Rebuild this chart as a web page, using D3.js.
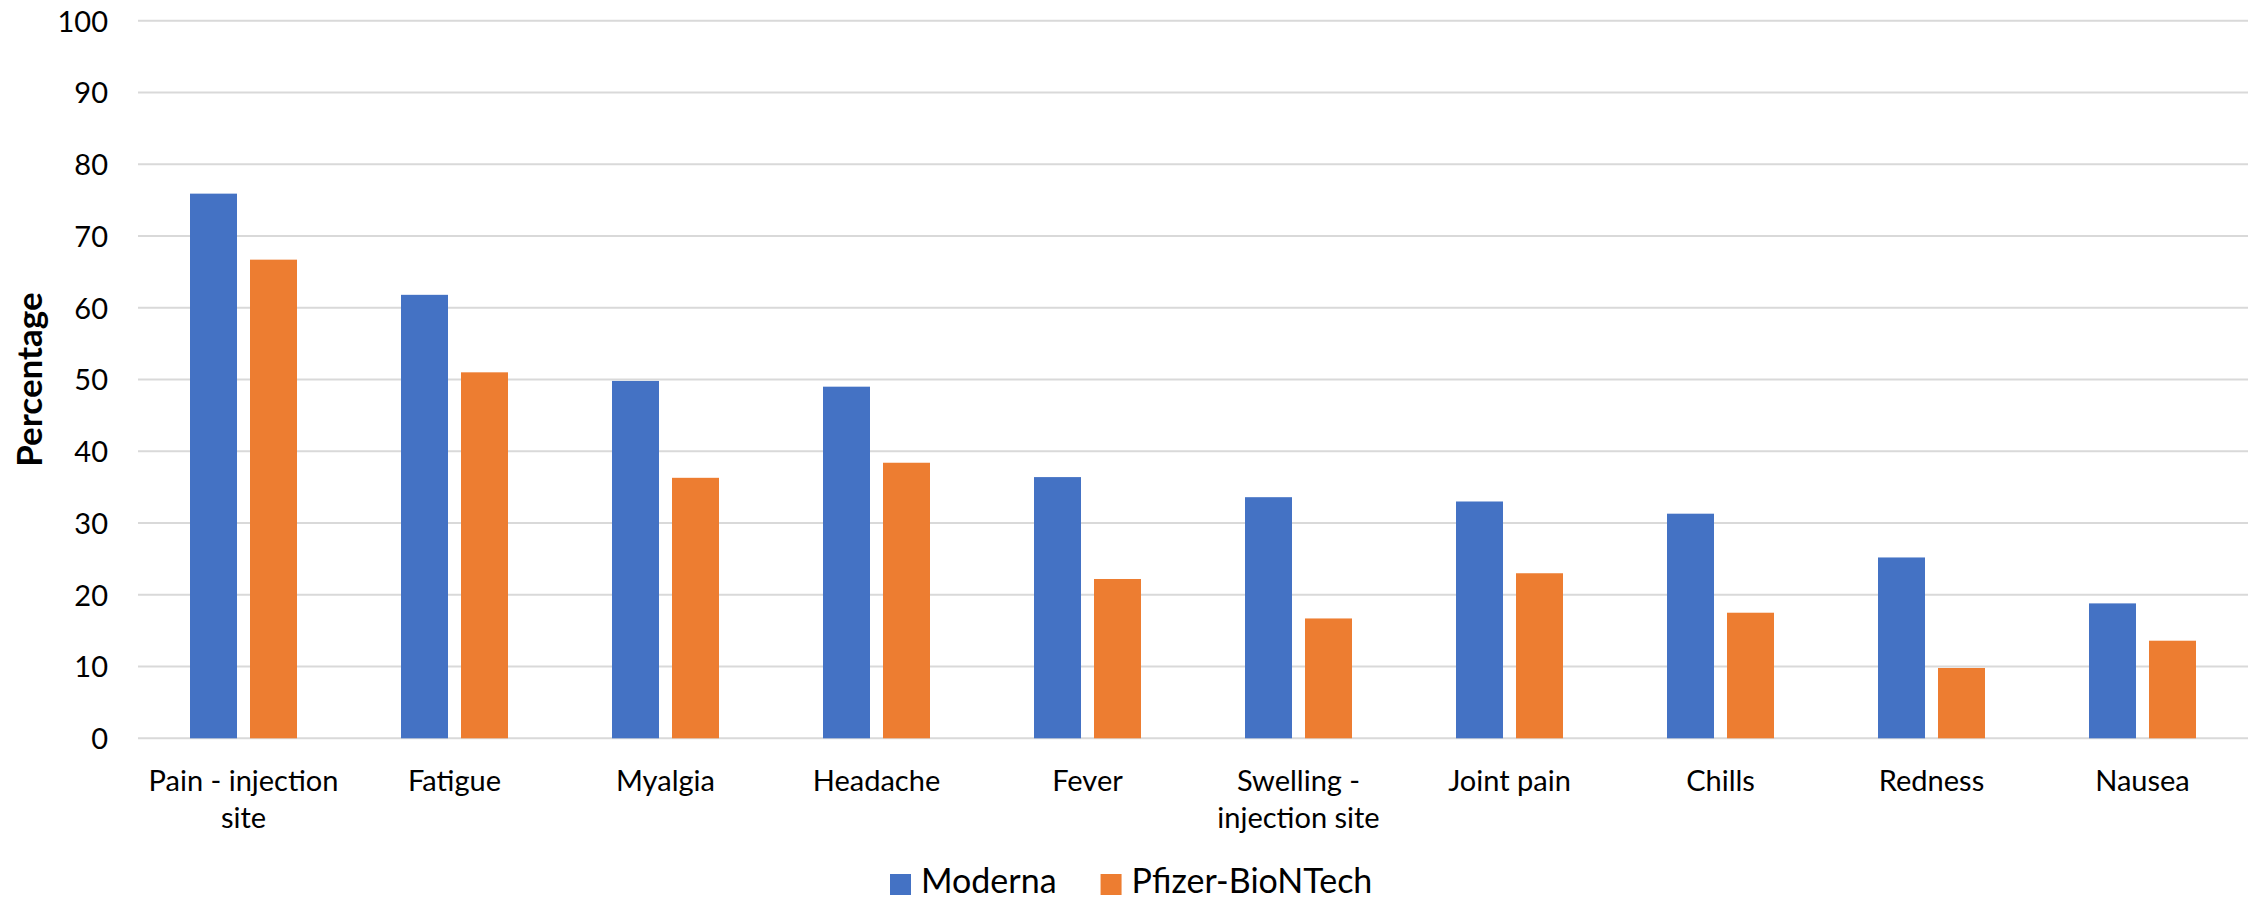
<!DOCTYPE html>
<html>
<head>
<meta charset="utf-8">
<script src="https://cdn.jsdelivr.net/npm/d3@7"></script>
<style>
  html, body { margin: 0; padding: 0; background: #ffffff; }
  svg { display: block; font-family: Lato, "Open Sans", sans-serif; }
</style>
</head>
<body>
<svg id="chart" width="2257" height="899"></svg>
<script>
// Reported side effects (% of recipients) by vaccine
const categories = ["Pain - injection site", "Fatigue", "Myalgia", "Headache", "Fever",
  "Swelling - injection site", "Joint pain", "Chills", "Redness", "Nausea"];
const seriesNames = ["Moderna", "Pfizer-BioNTech"];
const moderna = [75.9, 61.8, 49.8, 49.0, 36.4, 33.6, 33.0, 31.3, 25.2, 18.8];
const pfizer = [66.7, 51.0, 36.3, 38.4, 22.2, 16.7, 23.0, 17.5, 9.8, 13.6];
const yTicks = [0, 10, 20, 30, 40, 50, 60, 70, 80, 90, 100];
const colors = ["#4472C4", "#ED7D31"];
const yTitle = "Percentage";

const svg = d3.select("#chart");
const plot = { left: 138, right: 2248, top: 20.7, bottom: 738.3 };
const fontSize = 29;

const y = d3.scaleLinear().domain([0, 100]).range([plot.bottom, plot.top]);
const x0 = d3.scaleBand().domain(categories).range([plot.left, plot.right]).padding(0);
const groupW = 107;
const x1 = d3.scaleBand().domain(seriesNames)
  .range([(x0.bandwidth() - groupW) / 2, (x0.bandwidth() + groupW) / 2])
  .paddingInner(0.2167).paddingOuter(0);

// Horizontal gridlines
svg.append("g")
  .selectAll("line")
  .data(yTicks)
  .join("line")
  .attr("x1", plot.left).attr("x2", plot.right)
  .attr("y1", d => y(d)).attr("y2", d => y(d))
  .attr("stroke", "#d9d9d9").attr("stroke-width", 2);

// Y axis tick labels
const yAxis = d3.axisLeft(y).tickValues(yTicks).tickSize(0).tickPadding(0);
const yg = svg.append("g").attr("transform", `translate(108,0)`).call(yAxis);
yg.select(".domain").remove();
yg.selectAll("text")
  .attr("font-family", "Lato, 'Open Sans', sans-serif")
  .attr("font-size", fontSize).attr("fill", "#000")
  .attr("dy", "0.36em");

// Y axis title
svg.append("text")
  .attr("transform", `translate(42,${(plot.top + plot.bottom) / 2}) rotate(-90)`)
  .attr("text-anchor", "middle")
  .attr("font-size", 35).attr("font-weight", "bold").attr("fill", "#000")
  .text(yTitle);

// Bars
const rows = categories.map((c, i) => ({ cat: c, vals: [moderna[i], pfizer[i]] }));
const groups = svg.append("g").selectAll("g")
  .data(rows)
  .join("g")
  .attr("transform", d => `translate(${x0(d.cat)},0)`);
groups.selectAll("rect")
  .data(d => d.vals.map((v, k) => ({ name: seriesNames[k], v, k })))
  .join("rect")
  .attr("x", d => x1(d.name))
  .attr("width", x1.bandwidth())
  .attr("y", d => y(d.v))
  .attr("height", d => y(0) - y(d.v))
  .attr("fill", d => colors[d.k]);

// Category labels, wrapped to the band width
const xAxis = d3.axisBottom(x0).tickSize(0).tickPadding(0);
const xg = svg.append("g").attr("transform", `translate(0,${plot.bottom})`).call(xAxis);
xg.select(".domain").remove();
xg.selectAll("text")
  .attr("font-family", "Lato, 'Open Sans', sans-serif")
  .attr("font-size", fontSize).attr("fill", "#000")
  .attr("y", 0).attr("dy", null)
  .each(function (d) {
    const t = d3.select(this);
    const words = d.split(" ");
    t.text(null);
    const lines = [];
    let line = [];
    const probe = t.append("tspan");
    for (const w of words) {
      const trial = line.concat([w]).join(" ");
      probe.text(trial);
      if (probe.node().getComputedTextLength() > x0.bandwidth() - 8 && line.length) {
        lines.push(line.join(" "));
        line = [w];
      } else {
        line.push(w);
      }
    }
    lines.push(line.join(" "));
    probe.remove();
    lines.forEach((l, i) => {
      t.append("tspan").attr("x", 0).attr("y", 53 + i * 37).text(l);
    });
  });

// Legend
const legend = svg.append("g");
let lx = 890;
seriesNames.forEach((name, k) => {
  legend.append("rect")
    .attr("x", lx).attr("y", 874).attr("width", 21).attr("height", 21)
    .attr("fill", colors[k]);
  const t = legend.append("text")
    .attr("x", lx + 31).attr("y", 893)
    .attr("font-size", 34).attr("fill", "#000")
    .text(name);
  lx += 31 + t.node().getComputedTextLength() + 44;
});
</script>
</body>
</html>
